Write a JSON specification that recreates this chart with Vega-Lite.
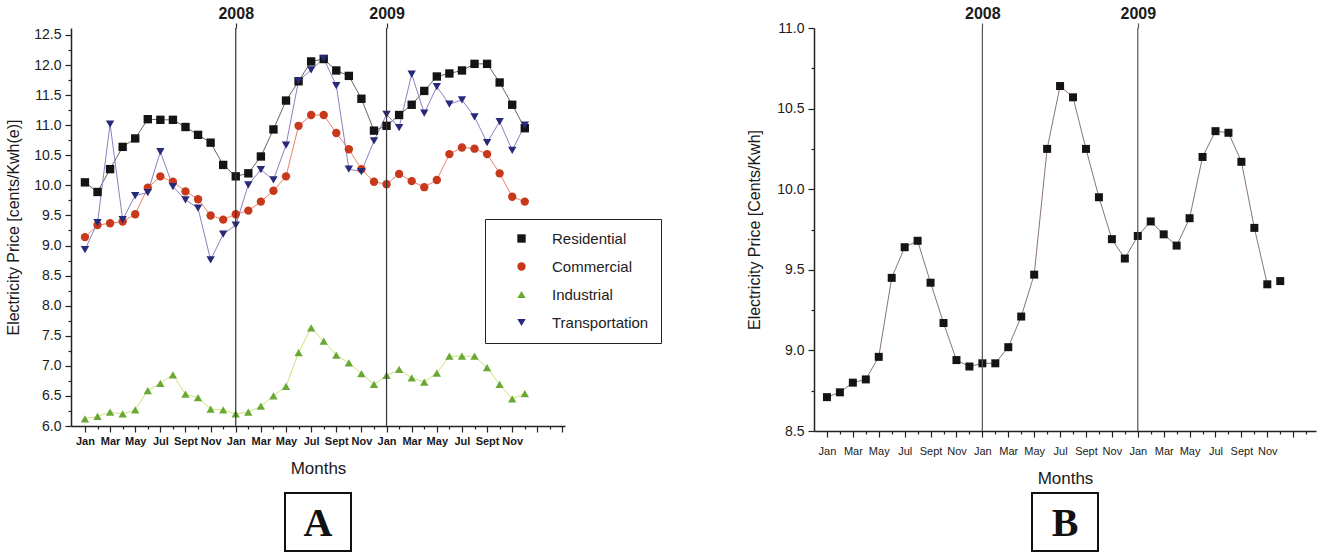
{
  "$schema": "https://vega.github.io/schema/vega-lite/v6.json",
  "background": "white",
  "padding": 5,
  "datasets": {
    "left": [
      {"m":0,"Residential":10.05,"Commercial":9.14,"Industrial":6.12,"Transportation":8.93},
      {"m":1,"Residential":9.89,"Commercial":9.34,"Industrial":6.16,"Transportation":9.38},
      {"m":2,"Residential":10.27,"Commercial":9.37,"Industrial":6.23,"Transportation":11.02},
      {"m":3,"Residential":10.64,"Commercial":9.40,"Industrial":6.20,"Transportation":9.43},
      {"m":4,"Residential":10.78,"Commercial":9.52,"Industrial":6.27,"Transportation":9.83},
      {"m":5,"Residential":11.10,"Commercial":9.96,"Industrial":6.59,"Transportation":9.88},
      {"m":6,"Residential":11.09,"Commercial":10.15,"Industrial":6.71,"Transportation":10.56},
      {"m":7,"Residential":11.09,"Commercial":10.06,"Industrial":6.85,"Transportation":9.98},
      {"m":8,"Residential":10.97,"Commercial":9.90,"Industrial":6.53,"Transportation":9.76},
      {"m":9,"Residential":10.84,"Commercial":9.77,"Industrial":6.47,"Transportation":9.62},
      {"m":10,"Residential":10.71,"Commercial":9.50,"Industrial":6.28,"Transportation":8.76},
      {"m":11,"Residential":10.34,"Commercial":9.43,"Industrial":6.27,"Transportation":9.19},
      {"m":12,"Residential":10.15,"Commercial":9.52,"Industrial":6.20,"Transportation":9.34},
      {"m":13,"Residential":10.20,"Commercial":9.58,"Industrial":6.23,"Transportation":10.01},
      {"m":14,"Residential":10.48,"Commercial":9.73,"Industrial":6.33,"Transportation":10.26},
      {"m":15,"Residential":10.93,"Commercial":9.91,"Industrial":6.50,"Transportation":10.09},
      {"m":16,"Residential":11.41,"Commercial":10.15,"Industrial":6.66,"Transportation":10.67},
      {"m":17,"Residential":11.73,"Commercial":10.99,"Industrial":7.22,"Transportation":11.74},
      {"m":18,"Residential":12.06,"Commercial":11.17,"Industrial":7.63,"Transportation":11.92},
      {"m":19,"Residential":12.10,"Commercial":11.17,"Industrial":7.41,"Transportation":12.11},
      {"m":20,"Residential":11.91,"Commercial":10.87,"Industrial":7.18,"Transportation":11.66},
      {"m":21,"Residential":11.82,"Commercial":10.60,"Industrial":7.05,"Transportation":10.27},
      {"m":22,"Residential":11.44,"Commercial":10.27,"Industrial":6.87,"Transportation":10.23},
      {"m":23,"Residential":10.91,"Commercial":10.06,"Industrial":6.69,"Transportation":10.74},
      {"m":24,"Residential":10.99,"Commercial":10.02,"Industrial":6.84,"Transportation":11.18},
      {"m":25,"Residential":11.17,"Commercial":10.19,"Industrial":6.94,"Transportation":10.96},
      {"m":26,"Residential":11.34,"Commercial":10.07,"Industrial":6.80,"Transportation":11.85},
      {"m":27,"Residential":11.57,"Commercial":9.97,"Industrial":6.73,"Transportation":11.20},
      {"m":28,"Residential":11.81,"Commercial":10.09,"Industrial":6.88,"Transportation":11.64},
      {"m":29,"Residential":11.86,"Commercial":10.52,"Industrial":7.16,"Transportation":11.35},
      {"m":30,"Residential":11.91,"Commercial":10.63,"Industrial":7.16,"Transportation":11.42},
      {"m":31,"Residential":12.02,"Commercial":10.61,"Industrial":7.16,"Transportation":11.14},
      {"m":32,"Residential":12.02,"Commercial":10.52,"Industrial":6.97,"Transportation":10.71},
      {"m":33,"Residential":11.71,"Commercial":10.20,"Industrial":6.69,"Transportation":11.06},
      {"m":34,"Residential":11.34,"Commercial":9.81,"Industrial":6.45,"Transportation":10.58},
      {"m":35,"Residential":10.95,"Commercial":9.73,"Industrial":6.54,"Transportation":11.00}
    ],
    "right": [
      {"m":0,"seg":"a","v":8.71},{"m":1,"seg":"a","v":8.74},{"m":2,"seg":"a","v":8.80},{"m":3,"seg":"a","v":8.82},
      {"m":4,"seg":"a","v":8.96},{"m":5,"seg":"a","v":9.45},{"m":6,"seg":"a","v":9.64},{"m":7,"seg":"a","v":9.68},
      {"m":8,"seg":"a","v":9.42},{"m":9,"seg":"a","v":9.17},{"m":10,"seg":"a","v":8.94},{"m":11,"seg":"a","v":8.90},
      {"m":12,"seg":"a","v":8.92},{"m":13,"seg":"a","v":8.92},{"m":14,"seg":"a","v":9.02},{"m":15,"seg":"a","v":9.21},
      {"m":16,"seg":"a","v":9.47},{"m":17,"seg":"a","v":10.25},{"m":18,"seg":"a","v":10.64},{"m":19,"seg":"a","v":10.57},
      {"m":20,"seg":"a","v":10.25},{"m":21,"seg":"a","v":9.95},{"m":22,"seg":"a","v":9.69},{"m":23,"seg":"a","v":9.57},
      {"m":24,"seg":"a","v":9.71},{"m":25,"seg":"a","v":9.80},{"m":26,"seg":"a","v":9.72},{"m":27,"seg":"a","v":9.65},
      {"m":28,"seg":"a","v":9.82},{"m":29,"seg":"a","v":10.20},{"m":30,"seg":"a","v":10.36},{"m":31,"seg":"a","v":10.35},
      {"m":32,"seg":"a","v":10.17},{"m":33,"seg":"a","v":9.76},{"m":34,"seg":"a","v":9.41},{"m":35,"seg":"b","v":9.43}
    ],
    "years": [{"m":12,"yr":"2008"},{"m":24,"yr":"2009"}],
    "boxA": [{"t":"A"}],
    "boxB": [{"t":"B"}]
  },
  "hconcat": [
    {
      "vconcat": [
        {
          "width": 494,
          "height": 398,
          "layer": [
            {
              "data": {"name": "left"},
              "transform": [{"fold": ["Residential","Commercial","Industrial","Transportation"], "as": ["s","v"]}],
              "mark": {"type": "line", "strokeWidth": 1},
              "encoding": {
                "x": {"field": "m", "type": "quantitative",
                  "scale": {"domain": [-1.11, 38.2], "nice": false, "zero": false},
                  "axis": {"title": "Months", "values": [0,1,2,3,4,5,6,7,8,9,10,11,12,13,14,15,16,17,18,19,20,21,22,23,24,25,26,27,28,29,30,31,32,33,34,35,36,37,38],
                    "labelExpr": "datum.value >= 0 && datum.value < 36 && datum.value % 2 == 0 ? ['Jan','Mar','May','Jul','Sept','Nov'][(datum.value % 12) / 2] : ''",
                    "tickSize": {"condition": {"test": "datum.value % 2 == 0", "value": 6}, "value": 3},
                    "labelFontSize": 11, "labelFontWeight": "bold", "labelPadding": 3, "labelOverlap": false, "labelFlush": false,
                    "titleFontSize": 17, "titleFontWeight": "normal", "titlePadding": 14, "grid": false}},
                "y": {"field": "v", "type": "quantitative",
                  "scale": {"domain": [6, 12.616], "nice": false, "zero": false},
                  "axis": {"title": "Electricity Price [cents/Kwh(e)]",
                    "values": [6,6.25,6.5,6.75,7,7.25,7.5,7.75,8,8.25,8.5,8.75,9,9.25,9.5,9.75,10,10.25,10.5,10.75,11,11.25,11.5,11.75,12,12.25,12.5],
                    "labelExpr": "datum.value % 0.5 == 0 ? format(datum.value, '.1f') : ''",
                    "tickSize": {"condition": {"test": "datum.value % 0.5 == 0", "value": 6}, "value": 3},
                    "labelFontSize": {"condition": {"test": "datum.value % 0.5 == 0", "value": 14}, "value": 1},
                    "labelPadding": 4, "labelOverlap": false, "labelFlush": false,
                    "titleFontSize": 16, "titleFontWeight": "normal", "titlePadding": 12, "grid": false}},
                "stroke": {"field": "s", "type": "nominal",
                  "scale": {"domain": ["Residential","Commercial","Industrial","Transportation"], "range": ["#6b6262","#e8806a","#cfe27a","#8e7fc2"]},
                  "legend": null}
              }
            },
            {
              "data": {"name": "left"},
              "transform": [{"fold": ["Residential","Commercial","Industrial","Transportation"], "as": ["s","v"]}],
              "mark": {"type": "point", "filled": true, "size": 70, "opacity": 1, "strokeWidth": 0},
              "encoding": {
                "x": {"field": "m", "type": "quantitative", "scale": {"domain": [-1.11, 38.2], "nice": false, "zero": false}, "axis": null},
                "y": {"field": "v", "type": "quantitative", "scale": {"domain": [6, 12.616], "nice": false, "zero": false},
                  "axis": {"title": "Electricity Price [cents/Kwh(e)]",
                    "values": [6,6.25,6.5,6.75,7,7.25,7.5,7.75,8,8.25,8.5,8.75,9,9.25,9.5,9.75,10,10.25,10.5,10.75,11,11.25,11.5,11.75,12,12.25,12.5],
                    "labelExpr": "datum.value % 0.5 == 0 ? format(datum.value, '.1f') : ''",
                    "tickSize": {"condition": {"test": "datum.value % 0.5 == 0", "value": 6}, "value": 3},
                    "labelFontSize": {"condition": {"test": "datum.value % 0.5 == 0", "value": 14}, "value": 1},
                    "labelPadding": 4, "labelOverlap": false, "labelFlush": false,
                    "titleFontSize": 16, "titleFontWeight": "normal", "titlePadding": 12, "grid": false}},
                "color": {"field": "s", "type": "nominal",
                  "scale": {"domain": ["Residential","Commercial","Industrial","Transportation"], "range": ["#141414","#c8391c","#6aa836","#262a78"]},
                  "legend": {"title": null, "orient": "none", "legendX": 414, "legendY": 191, "strokeColor": "#222", "padding": 12,
                    "labelFontSize": 15, "labelColor": "#222", "symbolSize": 70, "rowPadding": 12, "symbolOffset": 17, "labelOffset": 23}},
                "shape": {"field": "s", "type": "nominal",
                  "scale": {"domain": ["Residential","Commercial","Industrial","Transportation"], "range": ["square","circle","triangle-up","triangle-down"]},
                  "legend": {"title": null, "orient": "none", "legendX": 414, "legendY": 191, "strokeColor": "#222", "padding": 12,
                    "labelFontSize": 15, "labelColor": "#222", "symbolSize": 70, "rowPadding": 12, "symbolOffset": 17, "labelOffset": 23}}
              }
            },
            {
              "data": {"name": "years"},
              "mark": {"type": "rule", "color": "#333", "strokeWidth": 1.2},
              "encoding": {
                "x": {"field": "m", "type": "quantitative", "scale": {"domain": [-1.11, 38.2], "nice": false, "zero": false},
                  "axis": {"orient": "top", "title": null, "values": [12, 24], "labelExpr": "datum.value == 12 ? '2008' : '2009'",
                    "domain": false, "tickSize": 5, "tickColor": "#333", "tickWidth": 1.2, "labelFontSize": 16, "labelFontWeight": "bold",
                    "labelPadding": 2, "grid": false}}
              }
            }
          ],
          "resolve": {"axis": {"x": "independent"}}
        },
        {
          "width": 66,
          "height": 58,
          "view": {"stroke": "#111", "strokeWidth": 2},
          "data": {"name": "boxA"},
          "mark": {"type": "text", "font": "Liberation Serif", "fontWeight": "bold", "fontSize": 40, "align": "center", "baseline": "middle", "color": "#111", "dy": 2},
          "encoding": {"text": {"field": "t"}}
        }
      ],
      "spacing": 67,
      "bounds": "flush",
      "center": true,
      "resolve": {"scale": {"color": "independent", "shape": "independent"}, "legend": {"color": "independent", "shape": "independent"}}
    },
    {
      "vconcat": [
        {
          "width": 502,
          "height": 403,
          "layer": [
            {
              "data": {"name": "right"},
              "mark": {"type": "line", "strokeWidth": 1, "color": "#8a7474"},
              "encoding": {
                "x": {"field": "m", "type": "quantitative",
                  "scale": {"domain": [-1.0, 37.76], "nice": false, "zero": false},
                  "axis": {"title": "Months", "values": [0,1,2,3,4,5,6,7,8,9,10,11,12,13,14,15,16,17,18,19,20,21,22,23,24,25,26,27,28,29,30,31,32,33,34,35,36,37],
                    "labelExpr": "datum.value >= 0 && datum.value < 36 && datum.value % 2 == 0 ? ['Jan','Mar','May','Jul','Sept','Nov'][(datum.value % 12) / 2] : ''",
                    "tickSize": {"condition": {"test": "datum.value % 2 == 0", "value": 6}, "value": 3},
                    "labelFontSize": 11, "labelPadding": 8, "labelOverlap": false, "labelFlush": false,
                    "titleFontSize": 17, "titleFontWeight": "normal", "titlePadding": 14, "grid": false}},
                "y": {"field": "v", "type": "quantitative",
                  "scale": {"domain": [8.5, 11], "nice": false, "zero": false},
                  "axis": {"title": "Electricity Price [Cents/Kwh]",
                    "values": [8.5,8.75,9,9.25,9.5,9.75,10,10.25,10.5,10.75,11],
                    "labelExpr": "datum.value % 0.5 == 0 ? format(datum.value, '.1f') : ''",
                    "tickSize": {"condition": {"test": "datum.value % 0.5 == 0", "value": 6}, "value": 3},
                    "labelFontSize": 14, "labelPadding": 4, "labelOverlap": false, "labelFlush": false,
                    "titleFontSize": 16, "titleFontWeight": "normal", "titlePadding": 14, "grid": false}},
                "detail": {"field": "seg", "type": "nominal"}
              }
            },
            {
              "data": {"name": "right"},
              "mark": {"type": "point", "shape": "square", "filled": true, "size": 64, "opacity": 1, "color": "#141414", "strokeWidth": 0},
              "encoding": {
                "x": {"field": "m", "type": "quantitative", "scale": {"domain": [-1.0, 37.76], "nice": false, "zero": false}, "axis": null},
                "y": {"field": "v", "type": "quantitative", "scale": {"domain": [8.5, 11], "nice": false, "zero": false}}
              }
            },
            {
              "data": {"name": "years"},
              "mark": {"type": "rule", "color": "#555", "strokeWidth": 1.2},
              "encoding": {
                "x": {"field": "m", "type": "quantitative", "scale": {"domain": [-1.0, 37.76], "nice": false, "zero": false},
                  "axis": {"orient": "top", "title": null, "values": [12, 24], "labelExpr": "datum.value == 12 ? '2008' : '2009'",
                    "domain": false, "tickSize": 5, "tickColor": "#555", "tickWidth": 1.2, "labelFontSize": 16, "labelFontWeight": "bold",
                    "labelPadding": 2, "grid": false}}
              }
            }
          ],
          "resolve": {"axis": {"x": "independent"}}
        },
        {
          "width": 66,
          "height": 58,
          "view": {"stroke": "#111", "strokeWidth": 2},
          "data": {"name": "boxB"},
          "mark": {"type": "text", "font": "Liberation Serif", "fontWeight": "bold", "fontSize": 40, "align": "center", "baseline": "middle", "color": "#111", "dy": 2},
          "encoding": {"text": {"field": "t"}}
        }
      ],
      "spacing": 62,
      "bounds": "flush",
      "center": true
    }
  ],
  "spacing": 84,
  "resolve": {"scale": {"color": "independent", "shape": "independent"}, "legend": {"color": "independent", "shape": "independent"}},
  "config": {
    "font": "Liberation Sans",
    "view": {"stroke": null},
    "axis": {"domainColor": "#222", "domainWidth": 1.5, "tickColor": "#222", "tickWidth": 1.2, "labelColor": "#1a1a1a", "titleColor": "#1a1a1a", "labelFont": "Liberation Sans", "titleFont": "Liberation Sans", "labelOverlap": false},
    "legend": {"labelFont": "Liberation Sans"}
  }
}
